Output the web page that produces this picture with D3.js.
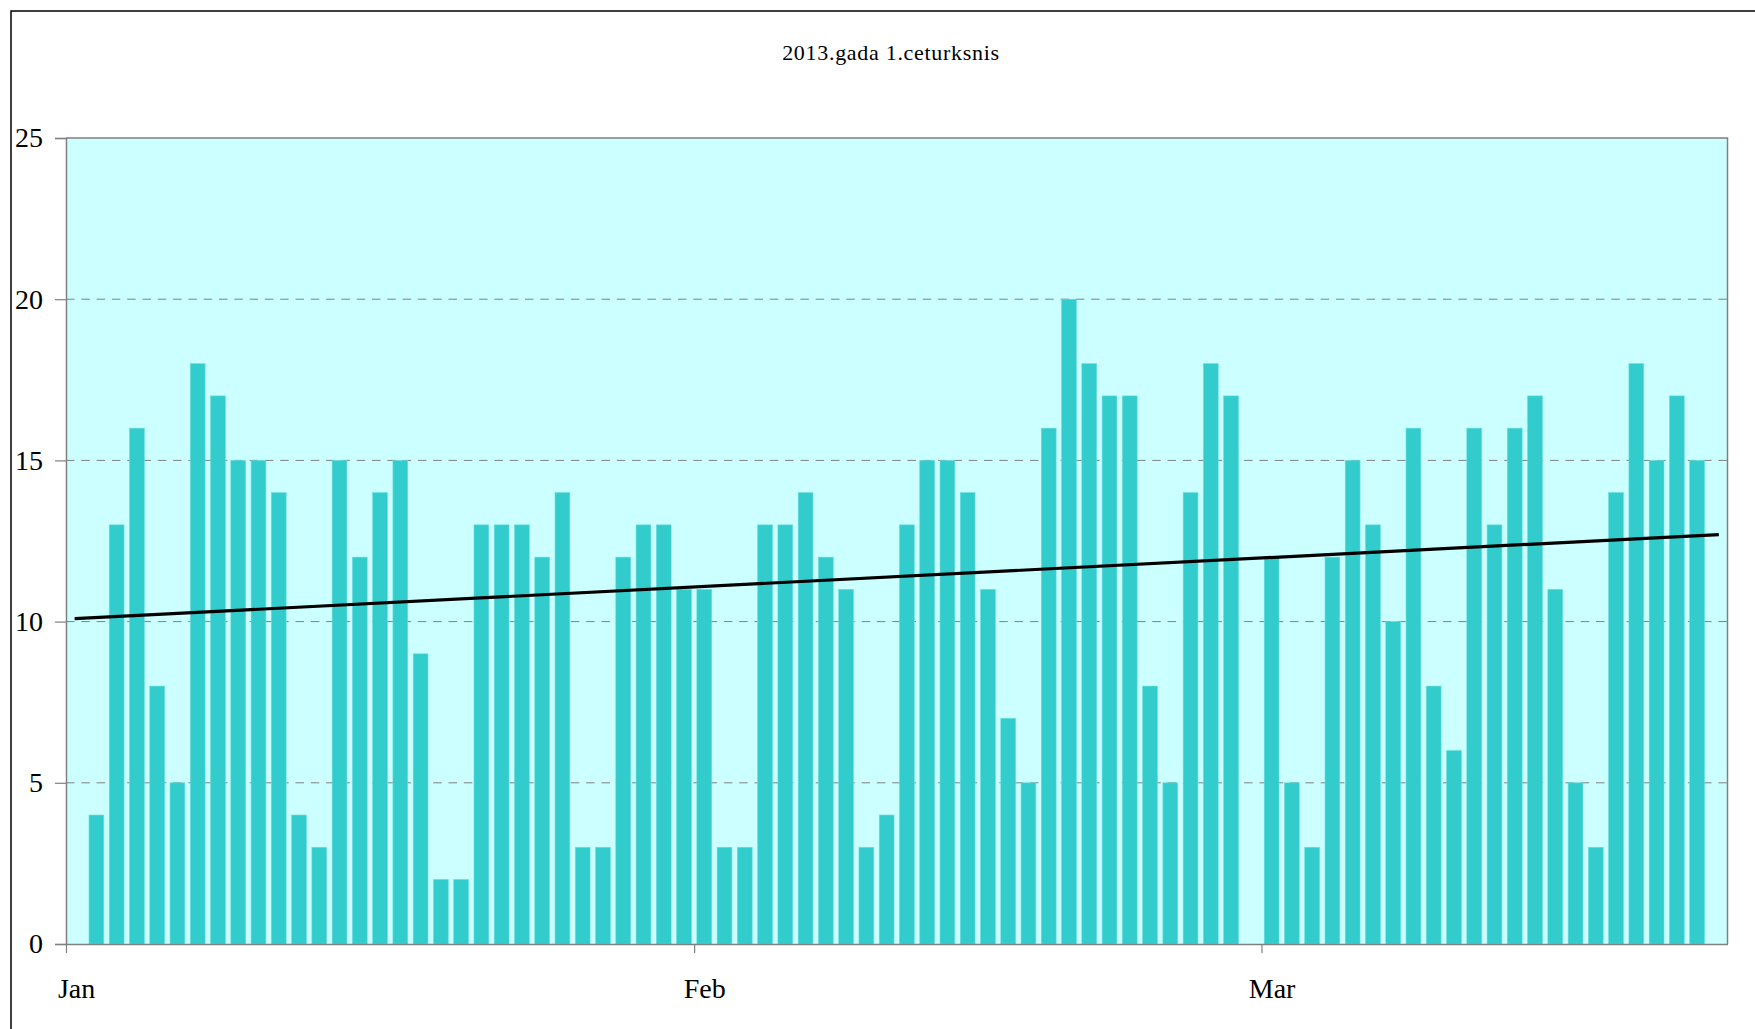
<!DOCTYPE html>
<html>
<head>
<meta charset="utf-8">
<script src="https://cdn.jsdelivr.net/npm/d3@7"></script>
<style>
  html, body { margin: 0; padding: 0; background: #ffffff; }
  svg { display: block; }
  text { font-family: "Liberation Serif", "Times New Roman", serif; fill: #000; }
</style>
</head>
<body>
<svg id="chart" width="1755" height="1029"></svg>
<script>
// ---- data ----
const title = "2013.gada 1.ceturksnis";
const janValues = [null,4,13,16,8,5,18,17,15,15,14,4,3,15,12,14,15,9,2,2,13,13,13,12,14,3,3,12,13,13,11];
const febValues = [11,3,3,13,13,14,12,11,3,4,13,15,15,14,11,7,5,16,20,18,17,17,8,5,14,18,17,null];
const marValues = [12,5,3,12,15,13,10,16,8,6,16,13,16,17,11,5,3,14,18,15,17,15,null];
const monthTicks = ["2013-01-01", "2013-02-01", "2013-03-01"];
const monthLabels = ["Jan", "Feb", "Mar"];
const yTicks = [0, 5, 10, 15, 20, 25];
const trendDates = ["2013-01-01", "2013-03-23"];
const trendValues = [10.09, 12.70];

// ---- build daily records ----
const parse = d3.utcParse("%Y-%m-%d");
const startDay = parse("2013-01-01");
const allValues = janValues.concat(febValues, marValues);
const days = allValues.map((v, i) => ({ date: d3.utcDay.offset(startDay, i), value: v }));
const endDay = d3.utcDay.offset(startDay, days.length);

// ---- layout ----
const svg = d3.select("#chart");
const plot = { left: 66, right: 1727.5, top: 138, bottom: 944 };

const x = d3.scaleUtc().domain([startDay, endDay]).range([plot.left, plot.right]);
const y = d3.scaleLinear().domain([0, 25]).range([plot.bottom, plot.top]);
const step = x(d3.utcDay.offset(startDay, 1)) - x(startDay);
const barW = step * 0.73;

// outer chart border (extends beyond right/bottom edges)
svg.append("rect")
  .attr("x", 11).attr("y", 11)
  .attr("width", 1800).attr("height", 1100)
  .attr("fill", "none").attr("stroke", "#000").attr("stroke-width", 1.5);

// plot background
svg.append("rect")
  .attr("x", plot.left).attr("y", plot.top)
  .attr("width", plot.right - plot.left).attr("height", plot.bottom - plot.top)
  .attr("fill", "#CCFFFF");

// gridlines
svg.append("g").selectAll("line")
  .data(yTicks.filter(t => t > 0 && t < 25))
  .join("line")
  .attr("x1", plot.left).attr("x2", plot.right)
  .attr("y1", d => y(d)).attr("y2", d => y(d))
  .attr("stroke", "#808080").attr("stroke-width", 1)
  .attr("stroke-dasharray", "8.5,6.8");

// bars
svg.append("g").selectAll("rect")
  .data(days.filter(d => d.value != null))
  .join("rect")
  .attr("x", d => x(d.date) + (step - barW) / 2)
  .attr("y", d => y(d.value))
  .attr("width", barW)
  .attr("height", d => y(0) - y(d.value))
  .attr("fill", "#33CCCC")
  .attr("stroke", "#66DDDD")
  .attr("stroke-width", 0.6);

// trend line
const trend = trendDates.map((d, i) => ({ date: parse(d), value: trendValues[i] }));
svg.append("path")
  .datum(trend)
  .attr("d", d3.line().x((d, i) => x(d.date) + step / 2 + (i === 0 ? -1.5 : 1.5)).y(d => y(d.value)))
  .attr("fill", "none").attr("stroke", "#000").attr("stroke-width", 3.2);

// plot border (top & right)
svg.append("path")
  .attr("d", `M${plot.left},${plot.top}H${plot.right}V${plot.bottom}`)
  .attr("fill", "none").attr("stroke", "#808080").attr("stroke-width", 1.5);

// y axis
const yAxis = svg.append("g")
  .attr("transform", `translate(${plot.left},0)`)
  .call(d3.axisLeft(y).tickValues(yTicks).tickSize(11).tickPadding(12).tickFormat(d3.format("d")));
yAxis.select(".domain").attr("stroke", "#808080").attr("stroke-width", 1.5);
yAxis.selectAll(".tick line").attr("stroke", "#808080").attr("stroke-width", 1.2);
yAxis.selectAll(".tick text")
  .attr("font-family", "Liberation Serif, Times New Roman, serif")
  .attr("font-size", 28).attr("fill", "#000");

// x axis
const tickDates = monthTicks.map(parse);
const xAxis = svg.append("g")
  .attr("transform", `translate(0,${plot.bottom})`)
  .call(d3.axisBottom(x).tickValues(tickDates).tickSize(9).tickSizeOuter(0)
    .tickFormat((d, i) => monthLabels[i]));
xAxis.select(".domain").attr("stroke", "#808080").attr("stroke-width", 1.5);
xAxis.selectAll(".tick line").attr("stroke", "#808080").attr("stroke-width", 1.2);
xAxis.selectAll(".tick text")
  .attr("font-family", "Liberation Serif, Times New Roman, serif")
  .attr("font-size", 28).attr("fill", "#000")
  .attr("x", step / 2)
  .attr("y", 0).attr("dy", null)
  .attr("transform", "translate(0,54)");

// title
svg.append("text")
  .attr("x", 891).attr("y", 60)
  .attr("text-anchor", "middle")
  .attr("font-size", 22)
  .attr("letter-spacing", 0.7)
  .text(title);
</script>
</body>
</html>
